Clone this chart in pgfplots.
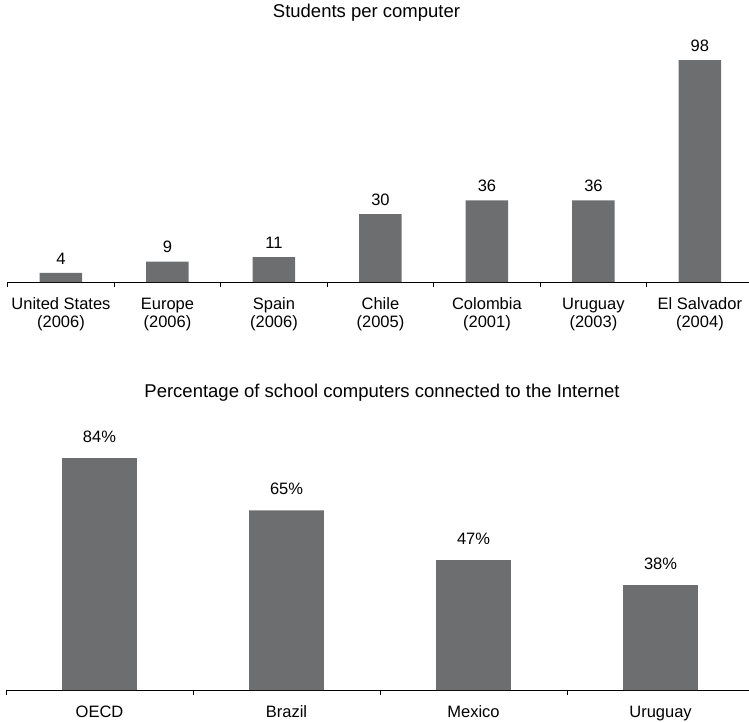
\documentclass[border=0pt]{standalone}
\usepackage{fontspec}
\setmainfont{Liberation Sans}
\usepackage{pgfplots}
\pgfplotsset{compat=1.18}
\definecolor{bargray}{RGB}{109,110,112}
\pgfplotsset{
  mybars/.style={
    scale only axis, anchor=south west, clip=false,
    ybar, bar width=0.4, ymin=0,
    axis x line*=bottom, axis y line=none,
    x axis line style={-, line width=1pt, black},
    enlargelimits=false,
    xtick=data,
    major x tick style={draw=none},
    tick align=outside,
    minor tick length=5pt,
    minor x tick style={line width=1pt, black},
    xticklabel style={align=center, font=\fontsize{16.5}{18}\selectfont, yshift=-8pt},
    every node near coord/.append style={font=\fontsize{16.5}{18}\selectfont, black},
    /pgf/number format/assume math mode=true,
  }
}
\begin{document}
\begin{tikzpicture}[x=1pt,y=1pt]
\path[use as bounding box] (0,0) rectangle (749,-721);
\node[font=\fontsize{18.5}{22}\selectfont] at (366.5,-13) {Students per computer};
\node[font=\fontsize{18.5}{22}\selectfont] at (382,-393) {Percentage of school computers connected to the Internet};
\begin{axis}[mybars,
  at={(7.7pt,-282pt)}, width=741.2pt, height=222pt,
  xmin=-0.5, xmax=6.46, ymax=98,
  minor xtick={-0.5,0.5,1.5,2.5,3.5,4.5,5.5},
  xticklabels={{United States\\(2006)},{Europe\\(2006)},{Spain\\(2006)},{Chile\\(2005)},{Colombia\\(2001)},{Uruguay\\(2003)},{El Salvador\\(2004)}},
  every node near coord/.append style={yshift=5pt},
  nodes near coords]
\addplot[fill=bargray, draw=none] coordinates {(0,4) (1,9) (2,11) (3,30) (4,36) (5,36) (6,98)};
\end{axis}
\begin{axis}[mybars,
  at={(6pt,-690pt)}, width=743pt, height=232pt,
  xmin=-0.5, xmax=3.473, ymax=84,
  minor xtick={-0.5,0.5,1.5,2.5},
  xticklabels={OECD,Brazil,Mexico,Uruguay},
  every node near coord/.append style={yshift=12pt},
  nodes near coords={\pgfmathprintnumber{\pgfplotspointmeta}\%}]
\addplot[fill=bargray, draw=none] coordinates {(0,84) (1,65) (2,47) (3,38)};
\end{axis}
\end{tikzpicture}
\end{document}
